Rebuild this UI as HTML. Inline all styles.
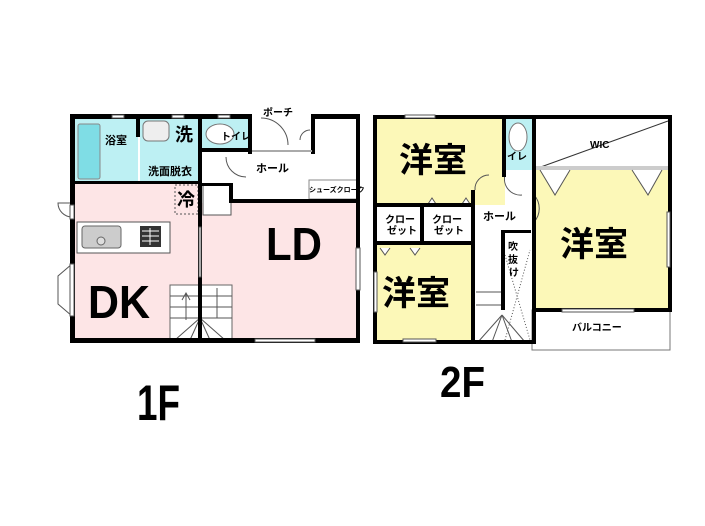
<!DOCTYPE html>
<html><head><meta charset="utf-8"><style>
html,body{margin:0;padding:0;background:#fff;}
svg{display:block;}
text{font-family:"Liberation Sans","Noto Sans CJK JP",sans-serif;font-weight:bold;fill:#000;}
</style></head><body>
<svg width="705" height="526" viewBox="0 0 705 526" xmlns="http://www.w3.org/2000/svg">
<!-- ===== 1F ===== -->
<!-- fills -->
<rect x="72" y="183" width="128" height="157" fill="#fde5e6"/>
<rect x="200" y="203" width="158" height="137" fill="#fde5e6"/>
<rect x="74" y="118" width="64" height="65" fill="#bdf0f3"/>
<rect x="140" y="118" width="60" height="65" fill="#bdf0f3"/>
<rect x="202" y="118" width="48" height="32" fill="#bdf0f3"/>
<!-- bathtub -->
<rect x="78" y="124" width="22" height="55" fill="#7fdde5" stroke="#888" stroke-width="1" rx="2"/>
<!-- wash basin -->
<rect x="143" y="121" width="26" height="20" fill="#eee" stroke="#777" rx="5"/>
<!-- toilet -->
<ellipse cx="220" cy="134" rx="14" ry="10" fill="#fff" stroke="#777"/>
<!-- fridge -->
<rect x="175" y="185" width="23" height="29" fill="none" stroke="#555" stroke-dasharray="2,2"/>
<!-- closet near hall -->
<rect x="203" y="185" width="28" height="30" fill="#fff" stroke="#555"/>
<!-- shoe closet -->
<rect x="309" y="180" width="48" height="19" fill="#fff" stroke="#888"/>
<!-- kitchen counter -->
<rect x="77" y="222" width="93" height="31" fill="#fff" stroke="#555"/>
<rect x="82" y="226" width="39" height="22" fill="#ccc" stroke="#666" rx="3"/>
<circle cx="101" cy="241" r="4" fill="#ddd" stroke="#666"/>
<rect x="140" y="226" width="21" height="21" fill="#333"/>
<g stroke="#fff" stroke-width="1"><line x1="142" y1="231" x2="159" y2="231"/><line x1="142" y1="236" x2="159" y2="236"/><line x1="142" y1="241" x2="159" y2="241"/><line x1="150" y1="228" x2="150" y2="245"/></g>
<!-- stairs -->
<rect x="170" y="285" width="62" height="55" fill="#fff" stroke="#666"/>
<g stroke="#555" stroke-width="1" fill="none">
<line x1="170" y1="296" x2="232" y2="296"/><line x1="170" y1="307" x2="232" y2="307"/><line x1="170" y1="318" x2="232" y2="318"/>
<line x1="217" y1="288" x2="217" y2="318"/>
<line x1="200" y1="318" x2="175" y2="340"/><line x1="200" y1="318" x2="190" y2="340"/><line x1="200" y1="318" x2="210" y2="340"/><line x1="200" y1="318" x2="225" y2="340"/>
<line x1="186" y1="320" x2="186" y2="293"/><polyline points="182,300 186,293 190,300"/>
</g>
<!-- bay window -->
<polyline points="72,264 58,276 58,304 72,316" fill="#fff" stroke="#555"/>
<!-- door left -->
<path d="M72,203 L58,203 A14,14 0 0 0 72,217" fill="none" stroke="#555"/>
<!-- porch door -->
<path d="M261,118 A27,27 0 0 1 288,145" fill="none" stroke="#555"/>
<path d="M300,140 A10,10 0 0 1 310,130" fill="none" stroke="#555"/>
<path d="M226,157 A20,20 0 0 0 246,177" fill="none" stroke="#555"/>
<!-- walls 1F -->
<g fill="#000">
<rect x="70" y="114" width="182" height="5"/>
<rect x="311" y="114" width="49" height="5"/>
<rect x="70" y="114" width="5" height="229"/>
<rect x="70" y="338" width="290" height="5"/>
<rect x="356" y="114" width="4" height="229"/>
<rect x="248" y="114" width="4" height="40"/>
<rect x="311" y="114" width="4" height="40"/>
<rect x="136" y="117" width="4" height="20"/>
<rect x="198" y="114" width="4" height="229"/>
<rect x="200" y="148" width="52" height="4"/>
<rect x="70" y="181" width="130" height="3"/>
<rect x="200" y="183" width="32" height="3"/>
<rect x="229" y="183" width="4" height="20"/>
<rect x="229" y="199" width="129" height="4"/>
</g>
<rect x="252" y="150" width="60" height="2" fill="#aaa"/>
<!-- windows -->
<g fill="#fff" stroke="#555" stroke-width="1">
<rect x="112" y="115" width="12" height="3"/><rect x="172" y="115" width="12" height="3"/><rect x="218" y="115" width="12" height="3"/>
<rect x="356" y="248" width="4" height="42"/><rect x="255" y="339" width="60" height="3"/>
<rect x="70" y="205" width="4" height="14"/><rect x="70" y="264" width="4" height="52"/>
<rect x="199" y="227" width="2" height="50"/>
</g>
<!-- labels 1F -->
<text x="105" y="144" font-size="11" font-weight="normal">浴室</text>
<text x="175" y="141" font-size="18">洗</text>
<text x="148" y="175" font-size="11">洗面脱衣</text>
<text x="221" y="140" font-size="10">トイレ</text>
<text x="263" y="116" font-size="10">ポーチ</text>
<text x="256" y="172" font-size="11">ホール</text>
<text x="309" y="192" font-size="7" font-weight="normal">シューズクローク</text>
<text x="177" y="206" font-size="18">冷</text>
<text x="88" y="318" font-size="46" textLength="62" lengthAdjust="spacingAndGlyphs">DK</text>
<text x="266" y="260" font-size="46" textLength="56" lengthAdjust="spacingAndGlyphs">LD</text>
<text x="137" y="420" font-size="50" textLength="43" lengthAdjust="spacingAndGlyphs">1F</text>

<!-- ===== 2F ===== -->
<rect x="375" y="117" width="130" height="88" fill="#fcf8b8"/>
<rect x="375" y="243" width="98" height="99" fill="#fcf8b8"/>
<rect x="535" y="170" width="135" height="140" fill="#fcf8b8"/>
<rect x="505" y="119" width="27" height="51" fill="#bdf0f3"/>
<ellipse cx="518" cy="137" rx="9" ry="14" fill="#fff" stroke="#777"/>
<rect x="532" y="310" width="138" height="40" fill="#fff" stroke="#777"/>
<!-- WIC -->
<line x1="538" y1="168" x2="668" y2="121" stroke="#333"/>
<rect x="535" y="166" width="133" height="4" fill="#ccc"/>
<!-- closet V doors -->
<g fill="#fff" stroke="#555">
<polyline points="540,170 555,195 570,170"/><polyline points="632,170 648,195 662,170"/>
<polyline points="380,248 385,255 390,248"/><polyline points="410,248 415,255 420,248"/>
<polyline points="428,204 432,198 436,204"/><polyline points="462,204 466,198 470,204"/>
</g>
<path d="M475,190 A14,14 0 0 1 489,175" fill="none" stroke="#555"/>
<path d="M505,175 A16,16 0 0 0 522,195" fill="none" stroke="#555"/>
<path d="M534,195 A20,20 0 0 1 534,222" fill="none" stroke="#555"/>
<!-- stairs 2F -->
<g stroke="#555" fill="none">
<line x1="476" y1="292" x2="502" y2="292"/><line x1="476" y1="305" x2="502" y2="305"/>
<line x1="502" y1="315" x2="478" y2="342"/><line x1="502" y1="315" x2="492" y2="342"/><line x1="502" y1="315" x2="512" y2="342"/><line x1="502" y1="315" x2="525" y2="342"/>
<line x1="505" y1="340" x2="530" y2="250" stroke-dasharray="1,2"/><line x1="505" y1="255" x2="530" y2="340" stroke-dasharray="1,2"/>
</g>
<!-- walls 2F -->
<g fill="#000">
<rect x="373" y="115" width="164" height="4"/>
<rect x="532" y="115" width="140" height="4"/>
<rect x="373" y="115" width="4" height="229"/>
<rect x="373" y="340" width="162" height="4"/>
<rect x="532" y="115" width="4" height="229"/>
<rect x="668" y="115" width="4" height="197"/>
<rect x="532" y="308" width="140" height="4"/>
<rect x="502" y="115" width="4" height="62"/>
<rect x="471" y="190" width="4" height="154"/>
<rect x="373" y="203" width="102" height="4"/>
<rect x="373" y="241" width="102" height="4"/>
<rect x="420" y="203" width="4" height="40"/>
<rect x="501" y="230" width="30" height="3"/>
<rect x="501" y="230" width="4" height="80"/>
</g>
<g fill="#fff" stroke="#555">
<rect x="405" y="115" width="30" height="3"/><rect x="403" y="339" width="33" height="3"/>
<rect x="374" y="272" width="3" height="40"/><rect x="667" y="212" width="3" height="55"/>
<rect x="562" y="309" width="72" height="3"/>
</g>
<text x="399" y="172" font-size="34">洋室</text>
<text x="382" y="305" font-size="34">洋室</text>
<text x="560" y="256" font-size="34">洋室</text>
<text x="385" y="223" font-size="10">クロー</text><text x="387" y="234" font-size="10">ゼット</text>
<text x="432" y="223" font-size="10">クロー</text><text x="434" y="234" font-size="10">ゼット</text>
<text x="483" y="220" font-size="11">ホール</text>
<text x="508" y="250" font-size="10">吹</text><text x="508" y="263" font-size="10">抜</text><text x="509" y="276" font-size="10">け</text>
<text x="507" y="160" font-size="10">イレ</text>
<text x="590" y="148" font-size="10">WIC</text>
<text x="572" y="331" font-size="10">バルコニー</text>
<text x="440" y="397" font-size="44" textLength="45" lengthAdjust="spacingAndGlyphs">2F</text>
</svg>
</body></html>
